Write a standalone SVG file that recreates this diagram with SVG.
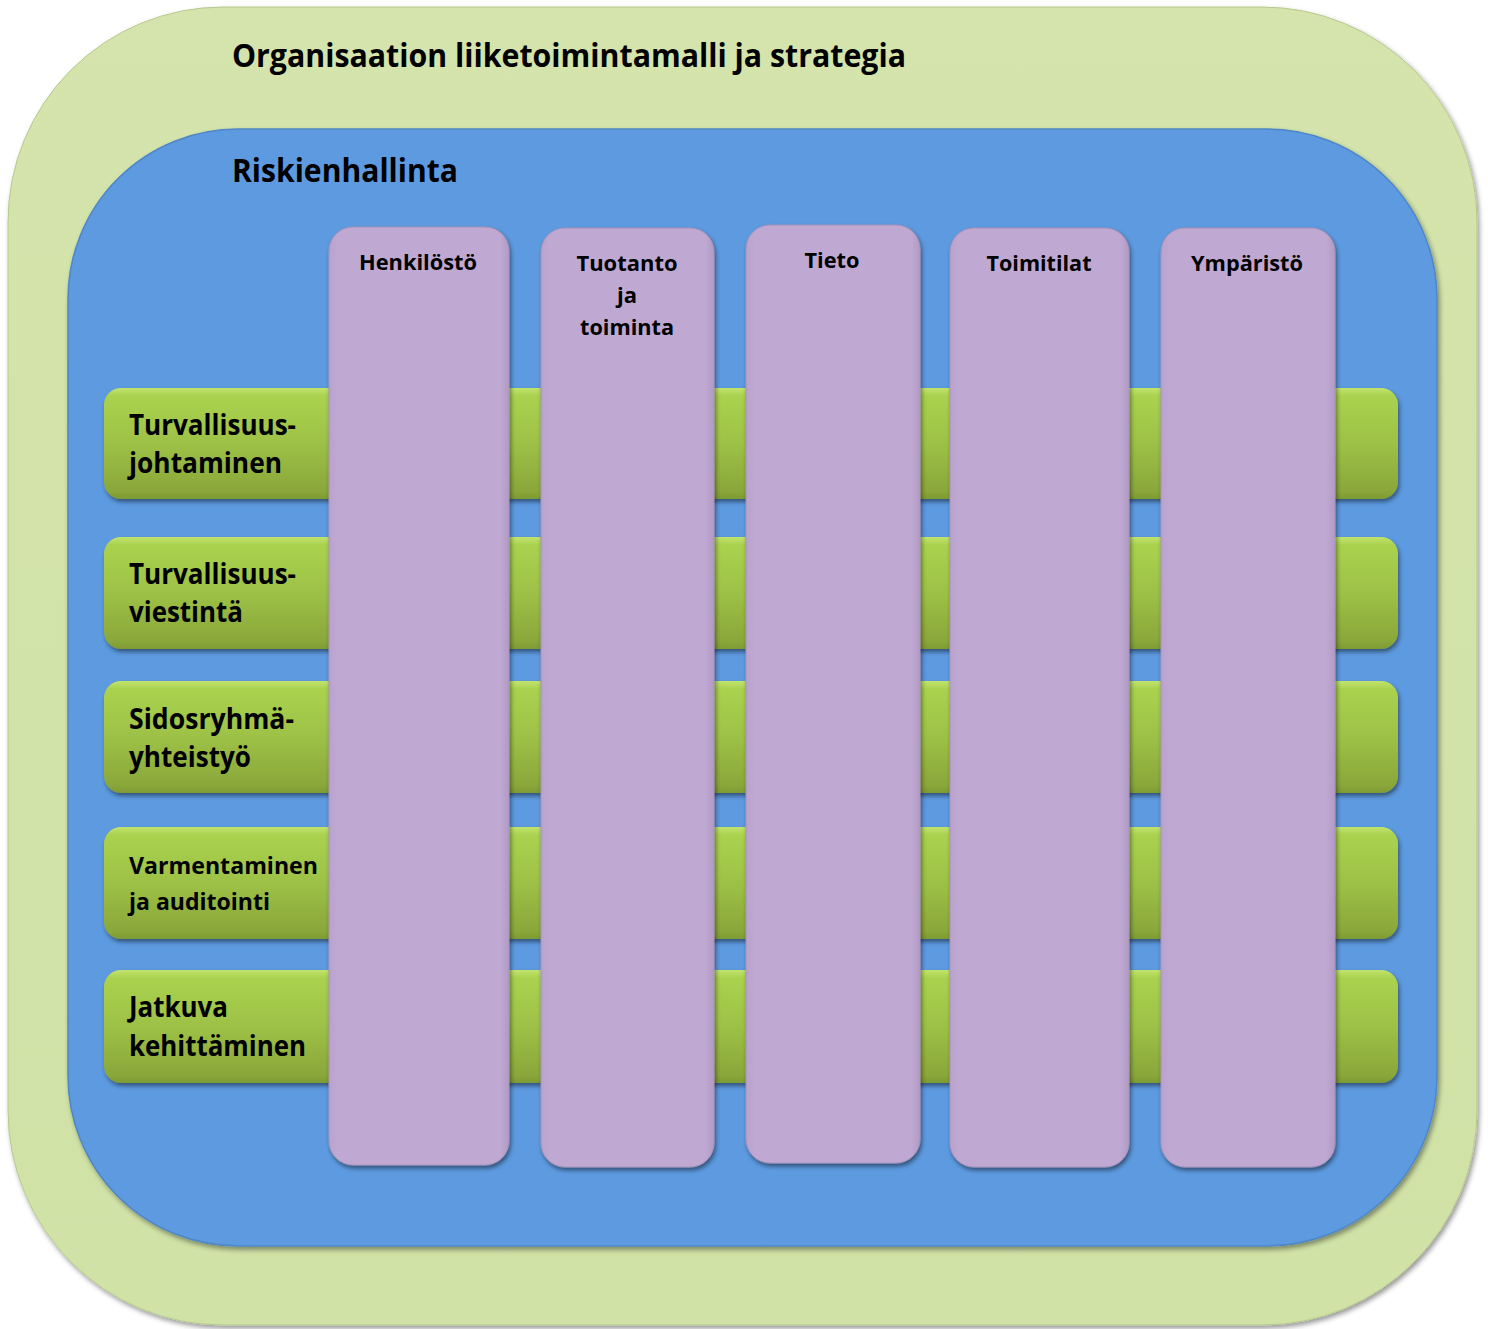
<svg xmlns="http://www.w3.org/2000/svg" width="1488" height="1329" viewBox="0 0 1488 1329">
<defs>
<style>
.title{font-family:"Open Sans","Noto Sans",sans-serif;font-weight:bold;font-size:33px;fill:#000}
.bar{font-family:"Open Sans","Noto Sans",sans-serif;font-weight:bold;font-size:28px;fill:#000}
.bars{font-family:"Open Sans","Noto Sans",sans-serif;font-weight:bold;font-size:23px;fill:#000}
.col{font-family:"Open Sans","Noto Sans",sans-serif;font-weight:bold;font-size:22px;fill:#000;text-anchor:middle}
.gbar{fill:url(#gGreen);filter:url(#sh)}
.pcol{fill:url(#gPurple);stroke:#A792B8;stroke-width:1;filter:url(#sh)}
</style>
<linearGradient id="gGreen" x1="0" y1="0" x2="0" y2="1">
<stop offset="0" stop-color="#C2E46E"/>
<stop offset="0.07" stop-color="#AAD24F"/>
<stop offset="0.5" stop-color="#9DC146"/>
<stop offset="0.93" stop-color="#8AA73A"/>
<stop offset="1" stop-color="#7E9A33"/>
</linearGradient>
<linearGradient id="gPurple" x1="0" y1="0" x2="1" y2="0">
<stop offset="0" stop-color="#B9A3CC"/>
<stop offset="0.05" stop-color="#BFA9D2"/>
<stop offset="0.95" stop-color="#BFA9D2"/>
<stop offset="1" stop-color="#B19BC4"/>
</linearGradient>
<linearGradient id="gOuter" x1="0" y1="0" x2="0" y2="1">
<stop offset="0" stop-color="#D4E4AC"/>
<stop offset="1" stop-color="#D0E2A6"/>
</linearGradient>
<filter id="sh" x="-10%" y="-10%" width="120%" height="120%">
<feDropShadow dx="1.5" dy="3" stdDeviation="2" flood-color="#000" flood-opacity="0.45"/>
</filter>
<filter id="shBig" x="-5%" y="-5%" width="110%" height="110%">
<feDropShadow dx="2" dy="3" stdDeviation="2.5" flood-color="#000" flood-opacity="0.4"/>
</filter>
</defs>

<g id="outer">
<rect x="8" y="7" width="1469" height="1318" rx="215" ry="215" fill="url(#gOuter)" stroke="#B7C98E" stroke-width="1" filter="url(#shBig)"/>
<text class="title" x="232" y="67" textLength="674" lengthAdjust="spacingAndGlyphs">Organisaation liiketoimintamalli ja strategia</text>
</g>

<g id="risk">
<rect x="68" y="129" width="1369" height="1117" rx="170" ry="170" fill="#5D9AE0" stroke="#4F86C6" stroke-width="1.5" filter="url(#shBig)"/>
<text class="title" x="232" y="182" textLength="226" lengthAdjust="spacingAndGlyphs">Riskienhallinta</text>
</g>

<g id="bar1">
<rect class="gbar" x="104" y="388" width="1294" height="111" rx="17"/>
<text class="bar" x="129" y="435" textLength="167" lengthAdjust="spacingAndGlyphs">Turvallisuus-</text>
<text class="bar" x="129" y="473" textLength="153" lengthAdjust="spacingAndGlyphs">johtaminen</text>
</g>
<g id="bar2">
<rect class="gbar" x="104" y="537" width="1294" height="112" rx="17"/>
<text class="bar" x="129" y="584" textLength="167" lengthAdjust="spacingAndGlyphs">Turvallisuus-</text>
<text class="bar" x="129" y="622" textLength="114" lengthAdjust="spacingAndGlyphs">viestintä</text>
</g>
<g id="bar3">
<rect class="gbar" x="104" y="681" width="1294" height="112" rx="17"/>
<text class="bar" x="129" y="729" textLength="165" lengthAdjust="spacingAndGlyphs">Sidosryhmä-</text>
<text class="bar" x="129" y="767" textLength="122" lengthAdjust="spacingAndGlyphs">yhteistyö</text>
</g>
<g id="bar4">
<rect class="gbar" x="104" y="827" width="1294" height="112" rx="17"/>
<text class="bars" x="129" y="874" textLength="189" lengthAdjust="spacingAndGlyphs">Varmentaminen</text>
<text class="bars" x="129" y="910" textLength="141" lengthAdjust="spacingAndGlyphs">ja auditointi</text>
</g>
<g id="bar5">
<rect class="gbar" x="104" y="970" width="1294" height="113" rx="17"/>
<text class="bar" x="129" y="1017" textLength="99" lengthAdjust="spacingAndGlyphs">Jatkuva</text>
<text class="bar" x="129" y="1056" textLength="177" lengthAdjust="spacingAndGlyphs">kehittäminen</text>
</g>

<g id="col1">
<rect class="pcol" x="329" y="227" width="180" height="938" rx="24"/>
<text class="col" x="418" y="270" textLength="118" lengthAdjust="spacingAndGlyphs">Henkilöstö</text>
</g>
<g id="col2">
<rect class="pcol" x="541" y="228" width="173" height="939" rx="24"/>
<text class="col" x="627" y="271" textLength="101" lengthAdjust="spacingAndGlyphs">Tuotanto</text>
<text class="col" x="627" y="303">ja</text>
<text class="col" x="627" y="335" textLength="94" lengthAdjust="spacingAndGlyphs">toiminta</text>
</g>
<g id="col3">
<rect class="pcol" x="746" y="225" width="174" height="938" rx="24"/>
<text class="col" x="832" y="268" textLength="55" lengthAdjust="spacingAndGlyphs">Tieto</text>
</g>
<g id="col4">
<rect class="pcol" x="950" y="228" width="179" height="939" rx="24"/>
<text class="col" x="1039" y="271" textLength="105" lengthAdjust="spacingAndGlyphs">Toimitilat</text>
</g>
<g id="col5">
<rect class="pcol" x="1161" y="228" width="174" height="939" rx="24"/>
<text class="col" x="1247" y="271" textLength="112" lengthAdjust="spacingAndGlyphs">Ympäristö</text>
</g>
<g id="connectors"/>
</svg>
